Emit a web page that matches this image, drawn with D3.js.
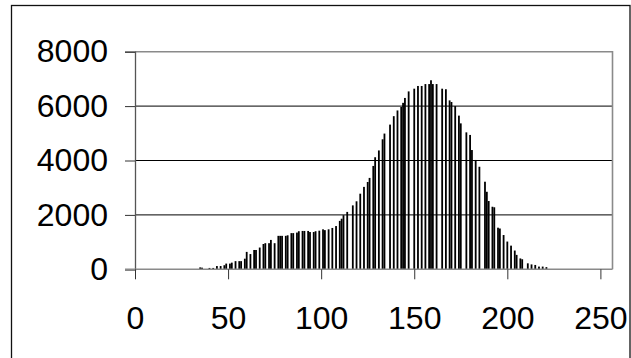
<!DOCTYPE html>
<html>
<head>
<meta charset="utf-8">
<script src="https://cdn.jsdelivr.net/npm/d3@7"></script>
<style>
  html, body { margin: 0; padding: 0; background: #fff; }
  svg { display: block; }
  text { font-family: "Liberation Sans", Arial, sans-serif; fill: #000; }
</style>
</head>
<body>
<script>
// Intensity levels that hold pixels, and the pixel count for each level
const levels = [
  35, 36, 40, 42, 44, 46, 48, 49, 51, 52, 54, 56, 57, 59, 60, 62, 64, 65, 67, 69,
  70, 72, 73, 75, 77, 78, 79, 81, 82, 84, 85, 87, 88, 90, 91, 93, 94, 96, 97, 99,
  101, 102, 104, 106, 108, 110, 111, 112, 114, 117, 119, 121, 123, 125, 126, 128, 129, 131, 133, 134,
  137, 139, 141, 143, 144, 145, 147, 150, 152, 154, 156, 158, 159, 160, 162, 165, 167, 169, 170, 172,
  174, 175, 178, 180, 181, 183, 185, 188, 189, 190, 192, 193, 195, 196, 198, 200, 202, 204, 205, 207,
  208, 211, 213, 215, 217, 219, 221
];
const counts = [
  70, 60, 50, 50, 120, 120, 150, 210, 210, 245, 300, 300, 300, 390, 640, 560, 710, 710, 800, 930,
  960, 960, 1080, 960, 1230, 1230, 1230, 1230, 1250, 1330, 1330, 1350, 1400, 1410, 1410, 1410, 1370, 1370, 1400, 1420,
  1470, 1440, 1470, 1520, 1590, 1780, 1860, 1990, 2110, 2350, 2500, 2780, 3030, 3210, 3360, 3800, 4120, 4370, 4780, 4990,
  5320, 5630, 5840, 5970, 6120, 6300, 6540, 6640, 6740, 6740, 6810, 6810, 6950, 6810, 6810, 6640, 6620, 6210, 6150, 6000,
  5650, 5365, 5035, 4940, 4385, 4020, 3770, 3220, 2850, 2510, 2300, 2280, 1530, 1500, 1260, 1020, 870, 690, 530, 400,
  370, 220, 180, 160, 100, 100, 80
];
const xTicks = [0, 50, 100, 150, 200, 250];
const yTicks = [0, 2000, 4000, 6000, 8000];

const W = 631, H = 358;
const plot = { left: 135, right: 612.5, top: 51.7, bottom: 269.3 };
const labelFont = "'Liberation Sans', Arial, sans-serif";
const labelSize = 32;

const svg = d3.select("body").append("svg")
  .attr("width", W).attr("height", H);

// Outer chart border (runs past the lower edge)
svg.append("rect")
  .attr("x", 11.5).attr("y", 5.5)
  .attr("width", 618.5).attr("height", 380)
  .attr("fill", "none").attr("stroke", "#111").attr("stroke-width", 1.3);

const x = d3.scaleLinear().domain([0, 256.5]).range([plot.left, plot.right]);
const y = d3.scaleLinear().domain([0, 8000]).range([plot.bottom, plot.top]);

// Horizontal gridlines
svg.append("g").selectAll("line")
  .data(yTicks.filter(v => v > 0 && v < 8000))
  .join("line")
  .attr("x1", plot.left).attr("x2", plot.right)
  .attr("y1", d => y(d)).attr("y2", d => y(d))
  .attr("stroke", "#000").attr("stroke-width", 1);

// Plot frame: top and right edges
svg.append("path")
  .attr("d", `M${plot.left},${plot.top}H${plot.right}V${plot.bottom}`)
  .attr("fill", "none").attr("stroke", "#8a8a8a").attr("stroke-width", 1.6);

// Histogram bars
const data = levels.map((lv, i) => ({ level: lv, count: counts[i] }));
const barW = 1.8;
svg.append("g").selectAll("rect")
  .data(data)
  .join("rect")
  .attr("x", d => x(d.level) - barW / 2)
  .attr("width", barW)
  .attr("y", d => y(d.count))
  .attr("height", d => y(0) - y(d.count))
  .attr("fill", "#000");

// Y axis
const yAxis = d3.axisLeft(y).tickValues(yTicks).tickSize(10).tickPadding(17)
  .tickFormat(d3.format("d"));
const gy = svg.append("g").attr("transform", `translate(${plot.left},0)`).call(yAxis);
gy.select(".domain").attr("stroke", "#555").attr("stroke-width", 1.3);
gy.selectAll(".tick line").attr("stroke", "#333");
gy.selectAll(".tick text")
  .attr("font-size", labelSize)
  .attr("font-family", labelFont)
  .attr("fill", "#000");

// X axis
const xAxis = d3.axisBottom(x).tickValues(xTicks).tickSize(10).tickPadding(27)
  .tickFormat(d3.format("d"));
const gx = svg.append("g").attr("transform", `translate(0,${plot.bottom})`).call(xAxis);
gx.select(".domain")
  .attr("d", `M${plot.left - 10},0H${plot.right}`)
  .attr("stroke", "#8a8a8a").attr("stroke-width", 1.6);
gx.selectAll(".tick line").attr("stroke", "#333");
gx.selectAll(".tick text")
  .attr("font-size", labelSize)
  .attr("font-family", labelFont)
  .attr("fill", "#000");
</script>
</body>
</html>
